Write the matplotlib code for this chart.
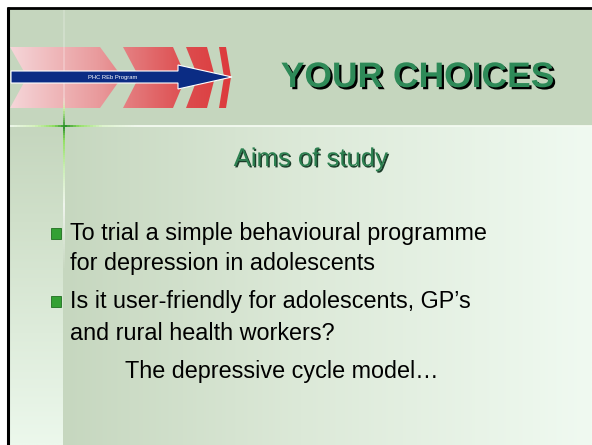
"""Slide: YOUR CHOICES - aims of study."""

import numpy as np
import matplotlib
matplotlib.use("Agg")
import matplotlib.pyplot as plt
import matplotlib.patheffects as pe
from matplotlib.collections import LineCollection
from matplotlib.colors import to_rgba
from matplotlib.patches import Polygon, Rectangle

title = "YOUR CHOICES"
subtitle = "Aims of study"
banner_label = "PHC REb Program"
bullets = [
    ["To trial a simple behavioural programme", "for depression in adolescents"],
    ["Is it user-friendly for adolescents, GP\u2019s", "and rural health workers?"],
]
closing = "The depressive cycle model\u2026"

W, H = 592, 445
HEADER = "#c5d6be"
FONT = "Liberation Sans"


def ramp(n, stops, colors):
    """RGB ramp of n samples through colour stops (positions 0..1)."""
    t = np.linspace(0, 1, n)
    rgb = np.array([to_rgba(c)[:3] for c in colors])
    return np.stack([np.interp(t, stops, rgb[:, k]) for k in range(3)], axis=-1)


def grad_line(ax, p0, p1, stops, colors, lw):
    n = 200
    xs = np.linspace(p0[0], p1[0], n + 1)
    ys = np.linspace(p0[1], p1[1], n + 1)
    segs = np.stack([np.column_stack([xs[:-1], ys[:-1]]),
                     np.column_stack([xs[1:], ys[1:]])], axis=1)
    pos = np.linspace(0, 1, n)
    rgba = np.array([to_rgba(c) for c in colors])
    cols = np.stack([np.interp(pos, stops, rgba[:, k]) for k in range(4)], axis=-1)
    ax.add_collection(LineCollection(segs, colors=cols, linewidths=lw,
                                     capstyle="butt", zorder=4))


def shadow(offset, color):
    return [pe.SimplePatchShadow(offset=offset, shadow_rgbFace=color, alpha=1.0),
            pe.Normal()]


fig = plt.figure(figsize=(W / 100, H / 100), dpi=100)
fig.patch.set_facecolor("white")
ax = fig.add_axes([0, 0, 1, 1])
ax.axis("off")

# background panels
ax.add_patch(Rectangle((7, 8), W - 7, 118, facecolor=HEADER, edgecolor="none",
                       zorder=0))
left_strip = ramp(100, [0, 0.3, 1], [HEADER, "#d0e0ca", "#ecf8ec"])[:, None, :]
ax.imshow(left_strip, extent=[8, 63, H, 126], origin="upper", aspect="auto",
          interpolation="bilinear", zorder=1)
body = ramp(300, [0, 0.45, 1], ["#c6d7bf", "#dce9d8", "#f0faf1"])[None, :, :]
ax.imshow(body, extent=[63, W, H, 126], aspect="auto", interpolation="bilinear",
          zorder=1)

# border (top and left only)
ax.plot([6.5, W], [8, 8], color="black", lw=2.0, solid_capstyle="butt", zorder=6)
ax.plot([7.5, 7.5], [7, H], color="black", lw=2.2, solid_capstyle="butt", zorder=6)

# guide lines with the green cross
grad_line(ax, (8.5, 125.7), (W, 125.7),
          [0, 0.04, 0.075, 0.095, 0.118, 0.16, 0.22, 1],
          ["#f2faf0", "#d8f5c0", "#8ee05c", "#1f8a1f", "#8ee05c", "#e0f6d0",
           "#f4fbf2", "#f4fbf2"], 1.3)
grad_line(ax, (63.5, 9), (63.5, H),
          [0, 0.2, 0.23, 0.27, 0.3, 0.36, 0.45, 0.6, 1],
          [(1, 1, 1, 0.2), (1, 1, 1, 0.3), "#c4f09a", "#1f8a1f", "#8ee05c",
           "#c8f0b0", (1, 1, 1, 0.8), (1, 1, 1, 0.0), (1, 1, 1, 0.0)], 1.3)

# chevrons
chev_img = ramp(300, [0, 0.4, 0.55, 0.8, 1],
                ["#f5d6d9", "#e99a9c", "#e47a7c", "#dd4c4e", "#dc3a3c"])[None, :, :]
chevrons = [
    [(10, 47), (100, 47), (122, 77), (100, 108), (10, 108), (27, 77)],
    [(123, 47), (173, 47), (186, 77), (173, 108), (123, 108), (139, 77)],
    [(186, 47), (207, 47), (215, 77), (207, 108), (186, 108), (198, 77)],
    [(219, 47), (226, 47), (231, 77), (226, 108), (219, 108), (224, 77)],
]
for pts in chevrons:
    poly = Polygon(pts, closed=True, facecolor="none", edgecolor="none", zorder=2)
    ax.add_patch(poly)
    im = ax.imshow(chev_img, extent=[10, 231, 108, 47], aspect="auto",
                   interpolation="bilinear", zorder=2)
    im.set_clip_path(poly)

# navy arrow
arrow = [(11, 71), (178, 71), (178, 65), (232, 77), (178, 89), (178, 83), (11, 83)]
ax.add_patch(Polygon(arrow, closed=True, facecolor="#0b2c84", edgecolor="white",
                     lw=0.8, joinstyle="miter", zorder=5))
ax.text(113, 77.5, banner_label, color="white", fontsize=4.2, family=FONT,
        ha="center", va="center", zorder=6)

# title and subtitle, both with drop shadows
ax.text(417.5, 87, title, color="#2e8a58", fontsize=25.5, family=FONT,
        weight="bold", ha="center", va="baseline", zorder=6,
        path_effects=shadow((1.6, -1.6), "black"))
ax.text(311, 166, subtitle, color="#2c8050", fontsize=18.5, family=FONT,
        ha="center", va="baseline", zorder=6,
        path_effects=shadow((1.0, -1.0), "#1c3d2a"))

# bullets
baselines = [[240, 270], [308, 340]]
for lines, ys in zip(bullets, baselines):
    ax.add_patch(Rectangle((51, ys[0] - 12), 10, 11, facecolor="#33a033",
                           edgecolor="#1f6e1f", lw=0.6, zorder=6))
    for text, y in zip(lines, ys):
        ax.text(70, y, text, color="black", fontsize=16.8, family=FONT,
                ha="left", va="baseline", zorder=6)
ax.text(125, 378, closing, color="black", fontsize=16.8, family=FONT,
        ha="left", va="baseline", zorder=6)

ax.set_xlim(0, W)
ax.set_ylim(H, 0)
fig.savefig("out.png", dpi=100, facecolor="white")
